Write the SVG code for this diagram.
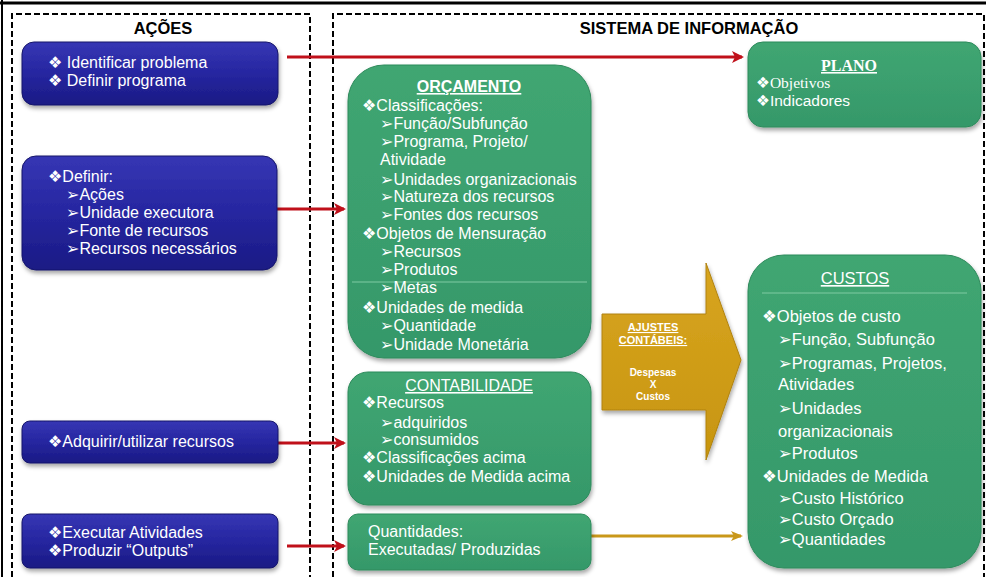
<svg xmlns="http://www.w3.org/2000/svg" width="986" height="577" viewBox="0 0 986 577">
<style>
  text { font-family: "Liberation Sans", "DejaVu Sans", Arial, sans-serif; fill: #ffffff; }
  .t { font-size: 16px; }
  .c { font-size: 16.5px; }
  .hdr { font-size: 16.5px; font-weight: bold; fill: #000000; }
  .ttl { font-size: 16px; text-decoration: underline; }
  .blue { fill: url(#gBlue); stroke: #15156a; stroke-width: 1; filter: url(#sh); }
  .green { fill: url(#gGreen); stroke: #2d8a5b; stroke-width: 1; filter: url(#sh); }
  .dash { fill: none; stroke: #000; stroke-width: 2; stroke-dasharray: 6 3; }
  .red { stroke: #c0101a; stroke-width: 3; fill: none; marker-end: url(#ar); }
  .gold { stroke: #c9981a; stroke-width: 3; fill: none; marker-end: url(#ag); }
  .gl { stroke: #7fcaa3; stroke-width: 1; }
</style>
<defs>
  <linearGradient id="gBlue" x1="0" y1="0" x2="0" y2="1">
    <stop offset="0" stop-color="#3636b4"/>
    <stop offset="0.5" stop-color="#2626a0"/>
    <stop offset="1" stop-color="#1a1a84"/>
  </linearGradient>
  <linearGradient id="gGreen" x1="0" y1="0" x2="0" y2="1">
    <stop offset="0" stop-color="#40a672"/>
    <stop offset="1" stop-color="#35986a"/>
  </linearGradient>
  <linearGradient id="gGold" x1="0" y1="0" x2="0" y2="1">
    <stop offset="0" stop-color="#d8a520"/>
    <stop offset="1" stop-color="#c7950f"/>
  </linearGradient>
  <filter id="sh" x="-10%" y="-10%" width="120%" height="130%">
    <feDropShadow dx="1" dy="3" stdDeviation="2" flood-color="#000" flood-opacity="0.35"/>
  </filter>
  <marker id="ar" markerWidth="12" markerHeight="12" refX="10" refY="6" orient="auto" markerUnits="userSpaceOnUse">
    <path d="M0,0 L12,6 L0,12 L3,6 Z" fill="#c0101a"/>
  </marker>
  <marker id="ag" markerWidth="12" markerHeight="10" refX="10" refY="5" orient="auto" markerUnits="userSpaceOnUse">
    <path d="M0,0 L12,5 L0,10 L3,5 Z" fill="#c9981a"/>
  </marker>
</defs>
<rect x="0" y="0" width="986" height="577" fill="#ffffff"/>
<line x1="0" y1="3" x2="986" y2="3" stroke="#000" stroke-width="3"/>
<line x1="2" y1="0" x2="2" y2="577" stroke="#000" stroke-width="2"/>

<g id="acoes-panel">
  <path class="dash" d="M12,577 L12,14 L310,14 L310,577"/>
  <text class="hdr" x="163" y="34" text-anchor="middle">AÇÕES</text>
</g>
<g id="sistema-panel">
  <path class="dash" d="M333,577 L333,14 L984,14 L984,577"/>
  <text class="hdr" x="689" y="34" text-anchor="middle">SISTEMA DE INFORMAÇÃO</text>
</g>

<g id="connectors">
  <line class="red" x1="287" y1="57" x2="742" y2="57"/>
  <line class="red" x1="277" y1="209" x2="344" y2="209"/>
  <line class="red" x1="278" y1="443" x2="344" y2="443"/>
  <line class="red" x1="287" y1="546" x2="344" y2="546"/>
  <line class="gold" x1="591" y1="536" x2="741" y2="536"/>
</g>

<g id="a1">
  <rect class="blue" x="22" y="42" width="256" height="63" rx="12"/>
  <text class="t" x="48" y="68">❖ Identificar problema</text>
  <text class="t" x="48" y="86">❖ Definir programa</text>
</g>
<g id="a2">
  <rect class="blue" x="22" y="156" width="255" height="114" rx="14"/>
  <text class="t" x="48" y="182">❖Definir:</text>
  <text class="t" x="66" y="200">➢Ações</text>
  <text class="t" x="66" y="218">➢Unidade executora</text>
  <text class="t" x="66" y="236">➢Fonte de recursos</text>
  <text class="t" x="66" y="254">➢Recursos necessários</text>
</g>
<g id="a3">
  <rect class="blue" x="22" y="421" width="256" height="42" rx="8"/>
  <text class="t" x="48" y="447">❖Adquirir/utilizar recursos</text>
</g>
<g id="a4">
  <rect class="blue" x="22" y="514" width="256" height="54" rx="8"/>
  <text class="t" x="48" y="538">❖Executar Atividades</text>
  <text class="t" x="48" y="556">❖Produzir “Outputs”</text>
</g>

<g id="orcamento">
  <rect class="green" x="348" y="65" width="243" height="293" rx="36"/>
  <line class="gl" x1="352" y1="282" x2="587" y2="282"/>
  <text class="ttl" x="469" y="92" text-anchor="middle" font-weight="bold">ORÇAMENTO</text>
  <text class="t" x="362" y="111">❖Classificações:</text>
  <text class="t" x="380" y="129">➢Função/Subfunção</text>
  <text class="t" x="380" y="147">➢Programa, Projeto/</text>
  <text class="t" x="380" y="165">Atividade</text>
  <text class="t" x="380" y="185">➢Unidades organizacionais</text>
  <text class="t" x="380" y="202">➢Natureza dos recursos</text>
  <text class="t" x="380" y="220">➢Fontes dos recursos</text>
  <text class="t" x="362" y="239">❖Objetos de Mensuração</text>
  <text class="t" x="380" y="257">➢Recursos</text>
  <text class="t" x="380" y="275">➢Produtos</text>
  <text class="t" x="380" y="293">➢Metas</text>
  <text class="t" x="362" y="313">❖Unidades de medida</text>
  <text class="t" x="380" y="331">➢Quantidade</text>
  <text class="t" x="380" y="350">➢Unidade Monetária</text>
</g>

<g id="contabilidade">
  <rect class="green" x="348" y="372" width="243" height="133" rx="20"/>
  <text class="ttl" x="469" y="391" text-anchor="middle">CONTABILIDADE</text>
  <text class="t" x="362" y="408">❖Recursos</text>
  <text class="t" x="380" y="428">➢adquiridos</text>
  <text class="t" x="380" y="445">➢consumidos</text>
  <text class="t" x="362" y="463">❖Classificações acima</text>
  <text class="t" x="362" y="482">❖Unidades de Medida acima</text>
</g>

<g id="quantidades">
  <rect class="green" x="348" y="514" width="243" height="56" rx="10"/>
  <text class="t" x="368" y="537">Quantidades:</text>
  <text class="t" x="368" y="555">Executadas/ Produzidas</text>
</g>

<g id="ajustes">
  <path d="M602,314 L706,314 L706,263 L741,360 L706,460 L706,410 L602,410 Z" fill="url(#gGold)" stroke="#b08210" stroke-width="1" filter="url(#sh)"/>
  <text x="653" y="331" text-anchor="middle" font-size="11" font-weight="bold" text-decoration="underline">AJUSTES</text>
  <text x="653" y="344" text-anchor="middle" font-size="11" font-weight="bold" text-decoration="underline">CONTÁBEIS:</text>
  <text x="653" y="376" text-anchor="middle" font-size="10" font-weight="bold">Despesas</text>
  <text x="653" y="388" text-anchor="middle" font-size="10" font-weight="bold">X</text>
  <text x="653" y="400" text-anchor="middle" font-size="10" font-weight="bold">Custos</text>
</g>

<g id="plano">
  <rect class="green" x="748" y="42" width="233" height="85" rx="15"/>
  <text x="849" y="71" text-anchor="middle" font-size="16" font-weight="bold" text-decoration="underline" style="font-family:'Liberation Serif', serif">PLANO</text>
  <text x="756" y="88" font-size="15.5" style="font-family:'Liberation Serif', 'DejaVu Sans', serif">❖Objetivos</text>
  <text x="756" y="106" font-size="15.5">❖Indicadores</text>
</g>

<g id="custos">
  <rect class="green" x="748" y="255" width="233" height="313" rx="36"/>
  <line class="gl" x1="762" y1="293" x2="967" y2="293"/>
  <text class="ttl" x="855" y="284" text-anchor="middle" style="font-size:16.5px">CUSTOS</text>
  <text class="c" x="762" y="322">❖Objetos de custo</text>
  <text class="c" x="778" y="345">➢Função, Subfunção</text>
  <text class="c" x="778" y="369">➢Programas, Projetos,</text>
  <text class="c" x="778" y="390">Atividades</text>
  <text class="c" x="778" y="414">➢Unidades</text>
  <text class="c" x="778" y="437">organizacionais</text>
  <text class="c" x="778" y="459">➢Produtos</text>
  <text class="c" x="762" y="482">❖Unidades de Medida</text>
  <text class="c" x="778" y="504">➢Custo Histórico</text>
  <text class="c" x="778" y="525">➢Custo Orçado</text>
  <text class="c" x="778" y="545">➢Quantidades</text>
</g>
</svg>
